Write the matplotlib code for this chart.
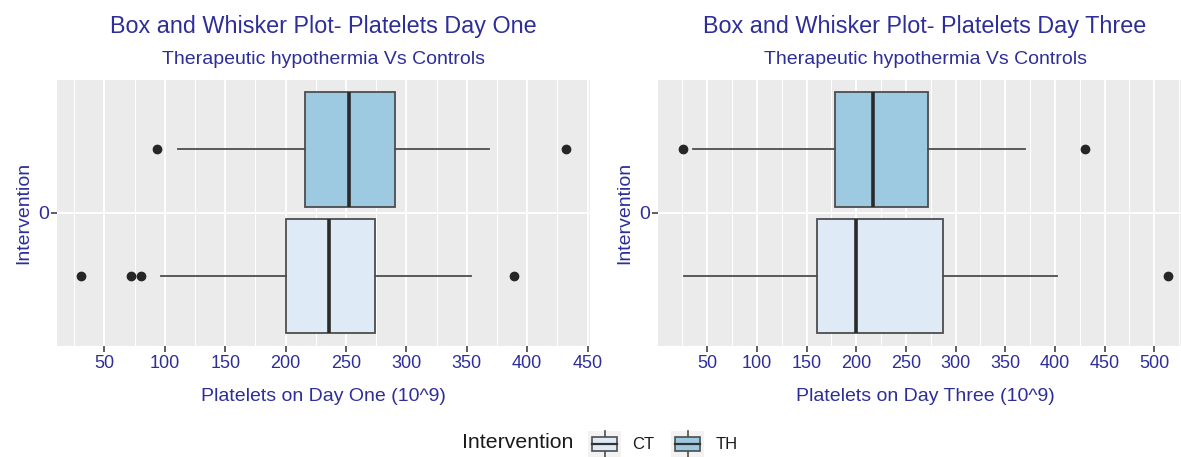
import matplotlib
matplotlib.use("Agg")
import matplotlib.pyplot as plt
from matplotlib.legend_handler import HandlerBase
from matplotlib.patches import Rectangle, Patch
from matplotlib.lines import Line2D

plt.rcParams['font.family'] = ['Liberation Sans', 'DejaVu Sans']

# ---------------- data ----------------
groups = ["CT", "TH"]
fills = {"CT": "#DEEBF7", "TH": "#9ECAE1"}

# Day one
day1_q1 = [200.5, 216.3]
day1_med = [235.9, 252.7]
day1_q3 = [273.9, 290.3]
day1_whislo = [97.1, 111.0]
day1_whishi = [353.6, 368.7]
day1_fliers = [[31.0, 72.1, 80.0, 389.3], [93.3, 432.0]]

# Day three
day3_q1 = [160.5, 178.7]
day3_med = [199.3, 217.1]
day3_q3 = [287.0, 272.6]
day3_whislo = [26.5, 36.0]
day3_whishi = [402.4, 370.2]
day3_fliers = [[513.5], [25.7, 430.2]]

day1_ticks = [50, 100, 150, 200, 250, 300, 350, 400, 450]
day3_ticks = [50, 100, 150, 200, 250, 300, 350, 400, 450, 500]

TXT = "#2E2E99"
W, H = 1181, 457

fig = plt.figure(figsize=(W / 100, H / 100), dpi=100)


def make_stats(q1, med, q3, lo, hi, fl):
    out = []
    for i in range(len(q1)):
        out.append(dict(q1=q1[i], med=med[i], q3=q3[i], whislo=lo[i],
                        whishi=hi[i], fliers=fl[i], label=groups[i]))
    return out


def panel(rect, stats, xlim, ticks, xlabel):
    ax = fig.add_axes(rect)
    ax.set_facecolor("#EBEBEB")
    for s in ax.spines.values():
        s.set_visible(False)
    positions = [-0.286, 0.286]
    bp = ax.bxp(stats, positions=positions, widths=0.518, vert=False,
                patch_artist=True, showcaps=False,
                boxprops=dict(edgecolor="#4D4D4D", linewidth=1.3),
                whiskerprops=dict(color="#4D4D4D", linewidth=1.3),
                medianprops=dict(color="#2A2A2A", linewidth=2.6),
                flierprops=dict(marker="o", markersize=6,
                                markerfacecolor="#262626",
                                markeredgecolor="#262626"))
    for patch, g in zip(bp["boxes"], groups):
        patch.set_facecolor(fills[g])
    ax.set_xticks(ticks)
    ax.set_xticklabels([str(t) for t in ticks])
    minor = [t - 25 for t in ticks] + [ticks[-1] + 25]
    ax.set_xticks(minor, minor=True)
    ax.set_yticks([0])
    ax.set_yticklabels(["0"])
    ax.set_xlim(*xlim)
    ax.set_ylim(-0.6, 0.6)
    ax.grid(True, which="major", axis="both", color="white", linewidth=1.3)
    ax.grid(True, which="minor", axis="x", color="white", linewidth=0.7)
    ax.set_axisbelow(True)
    ax.tick_params(axis="x", which="major", length=4, width=1.1, color="#333333",
                   labelsize=13, labelcolor=TXT, pad=3)
    ax.tick_params(axis="x", which="minor", length=0)
    ax.tick_params(axis="y", length=4, width=1.1, color="#333333",
                   labelsize=14, labelcolor=TXT, pad=2)
    ax.set_ylabel("Intervention", fontsize=14, color=TXT, labelpad=4)
    ax.set_xlabel(xlabel, fontsize=14, color=TXT, labelpad=3)
    return ax


top, bot = 80, 345.5
ax1 = panel([57.3 / W, 1 - bot / H, (590 - 57.3) / W, (bot - top) / H],
            make_stats(day1_q1, day1_med, day1_q3, day1_whislo, day1_whishi, day1_fliers),
            (11.0, 452.0), day1_ticks, "Platelets on Day One (10^9)")
ax2 = panel([658.3 / W, 1 - bot / H, (1181 - 658.3) / W, (bot - top) / H],
            make_stats(day3_q1, day3_med, day3_q3, day3_whislo, day3_whishi, day3_fliers),
            (0.7, 527.0), day3_ticks, "Platelets on Day Three (10^9)")

# titles
for cx, t in [(323, "Box and Whisker Plot- Platelets Day One"),
              (925, "Box and Whisker Plot- Platelets Day Three")]:
    fig.text(cx / W, 1 - 26 / H, t, ha="center", va="center", fontsize=16.8, color=TXT)
    fig.text(cx / W, 1 - 60 / H, "Therapeutic hypothermia Vs Controls",
             ha="center", va="center", fontsize=14, color=TXT)
# x labels positions relative to panels' centers
ax1.xaxis.set_label_coords((323 - 57.3) / (590 - 57.3), -0.16)
ax2.xaxis.set_label_coords((925 - 658.3) / (1181 - 658.3), -0.16)


class BoxHandler(HandlerBase):
    def create_artists(self, legend, orig_handle, xdescent, ydescent,
                       width, height, fontsize, trans):
        fc = orig_handle.get_facecolor()
        x0, y0 = -xdescent, -ydescent
        arts = []
        arts.append(Rectangle((x0, y0), width, height, facecolor="#F2F2F2",
                              edgecolor="none", transform=trans))
        cx = x0 + width / 2
        arts.append(Line2D([cx, cx], [y0, y0 + 0.23 * height],
                           color="#4D4D4D", lw=1.2, transform=trans))
        arts.append(Line2D([cx, cx], [y0 + 0.77 * height, y0 + height],
                           color="#4D4D4D", lw=1.2, transform=trans))
        arts.append(Rectangle((x0 + 0.12 * width, y0 + 0.23 * height), 0.76 * width,
                              0.54 * height, facecolor=fc, edgecolor="#4D4D4D",
                              lw=1.2, transform=trans))
        arts.append(Line2D([x0 + 0.12 * width, x0 + 0.88 * width],
                           [y0 + 0.5 * height, y0 + 0.5 * height],
                           color="#333333", lw=1.6, transform=trans))
        return arts


handles = [Patch(facecolor=fills[g]) for g in groups]
fig.text(462 / W, 1 - 443 / H, "Intervention", ha="left", va="center",
         fontsize=15.3, color="#1A1A1A")
fig.legend(handles, groups, handler_map={Patch: BoxHandler()},
           loc="center left", bbox_to_anchor=(588 / W, 1 - 444 / H),
           ncol=2, frameon=False, fontsize=12, borderpad=0, borderaxespad=0,
           handlelength=2.0, handleheight=2.0, handletextpad=0.66,
           columnspacing=1.0, labelcolor="#1A1A1A")

fig.savefig("out.png", dpi=100)
